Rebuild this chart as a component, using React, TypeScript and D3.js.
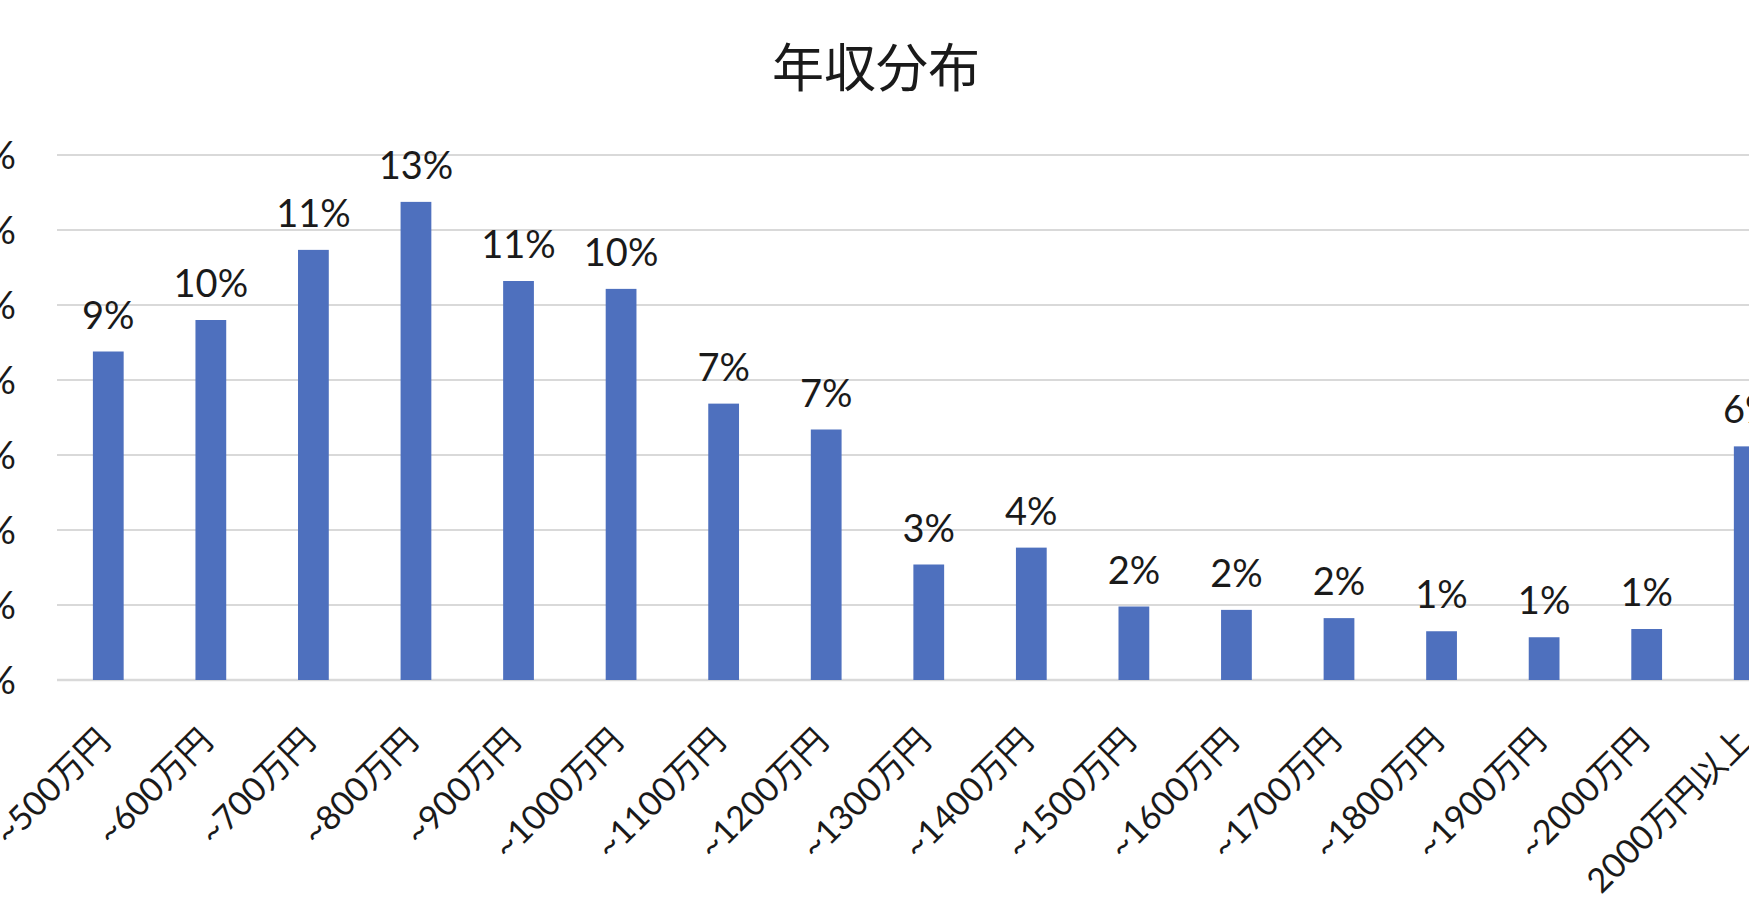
import * as d3 from 'd3';

const categories = [
  '~500万円', '~600万円', '~700万円', '~800万円', '~900万円', '~1000万円',
  '~1100万円', '~1200万円', '~1300万円', '~1400万円', '~1500万円', '~1600万円',
  '~1700万円', '~1800万円', '~1900万円', '~2000万円', '2000万円以上',
];
// share of respondents, percent
const shares = [
  8.76, 9.6, 11.47, 12.75, 10.64, 10.43, 7.37, 6.68, 3.08, 3.53,
  1.96, 1.87, 1.65, 1.3, 1.14, 1.36, 6.23,
];
const yTicks = [0, 2, 4, 6, 8, 10, 12, 14];
const title = '年収分布';

const W = 1749;
const H = 900;
const plotLeft = 57;
const step = 102.56;
const baseY = 680;
const topY = 155;

const latin = "Lato, 'Noto Sans CJK JP', sans-serif";
const cjk = "'Noto Sans CJK JP', sans-serif";
const ink = '#1a1a1a';

export default function App() {
  const x = d3
    .scaleBand<string>()
    .domain(categories)
    .range([plotLeft, plotLeft + step * categories.length])
    .paddingInner(0.7)
    .paddingOuter(0.35);

  const y = d3.scaleLinear().domain([0, 14]).range([baseY, topY]);

  return (
    <>
      <style>{'body{margin:0;overflow:hidden}'}</style>
      <svg width={W} height={H} style={{ display: 'block', background: '#fff' }}>
        <text
          x={876}
          y={64}
          textAnchor="middle"
          dominantBaseline="central"
          fontFamily={cjk}
          fontSize={52}
          fill={ink}
        >
          {title}
        </text>

        {/* gridlines + y labels */}
        {yTicks.map(t => (
          <g key={t}>
            <line
              x1={plotLeft}
              x2={W}
              y1={y(t)}
              y2={y(t)}
              stroke="#d9d9d9"
              strokeWidth={t === 0 ? 2.5 : 2}
            />
            <text
              x={16}
              y={y(t)}
              dy="0.36em"
              textAnchor="end"
              fontFamily={latin}
              fontSize={38}
              fill={ink}
            >
              {`${t}%`}
            </text>
          </g>
        ))}

        {/* bars */}
        {categories.map((c, i) => (
          <rect
            key={c}
            x={x(c)}
            y={y(shares[i])}
            width={x.bandwidth()}
            height={baseY - y(shares[i])}
            fill="#4e70be"
          />
        ))}

        {/* value labels */}
        {categories.map((c, i) => (
          <text
            key={c}
            x={(x(c) ?? 0) + x.bandwidth() / 2}
            y={y(shares[i]) - 23}
            textAnchor="middle"
            fontFamily={latin}
            fontSize={38}
            fill={ink}
          >
            {`${Math.round(shares[i])}%`}
          </text>
        ))}

        {/* category labels */}
        {categories.map(c => {
          const cx = (x(c) ?? 0) + x.bandwidth() / 2;
          return (
            <text
              key={c}
              transform={`translate(${cx + 4},${743}) rotate(-45)`}
              textAnchor="end"
              fontFamily={latin}
              fontSize={34}
              fill={ink}
            >
              {c}
            </text>
          );
        })}
      </svg>
    </>
  );
}
